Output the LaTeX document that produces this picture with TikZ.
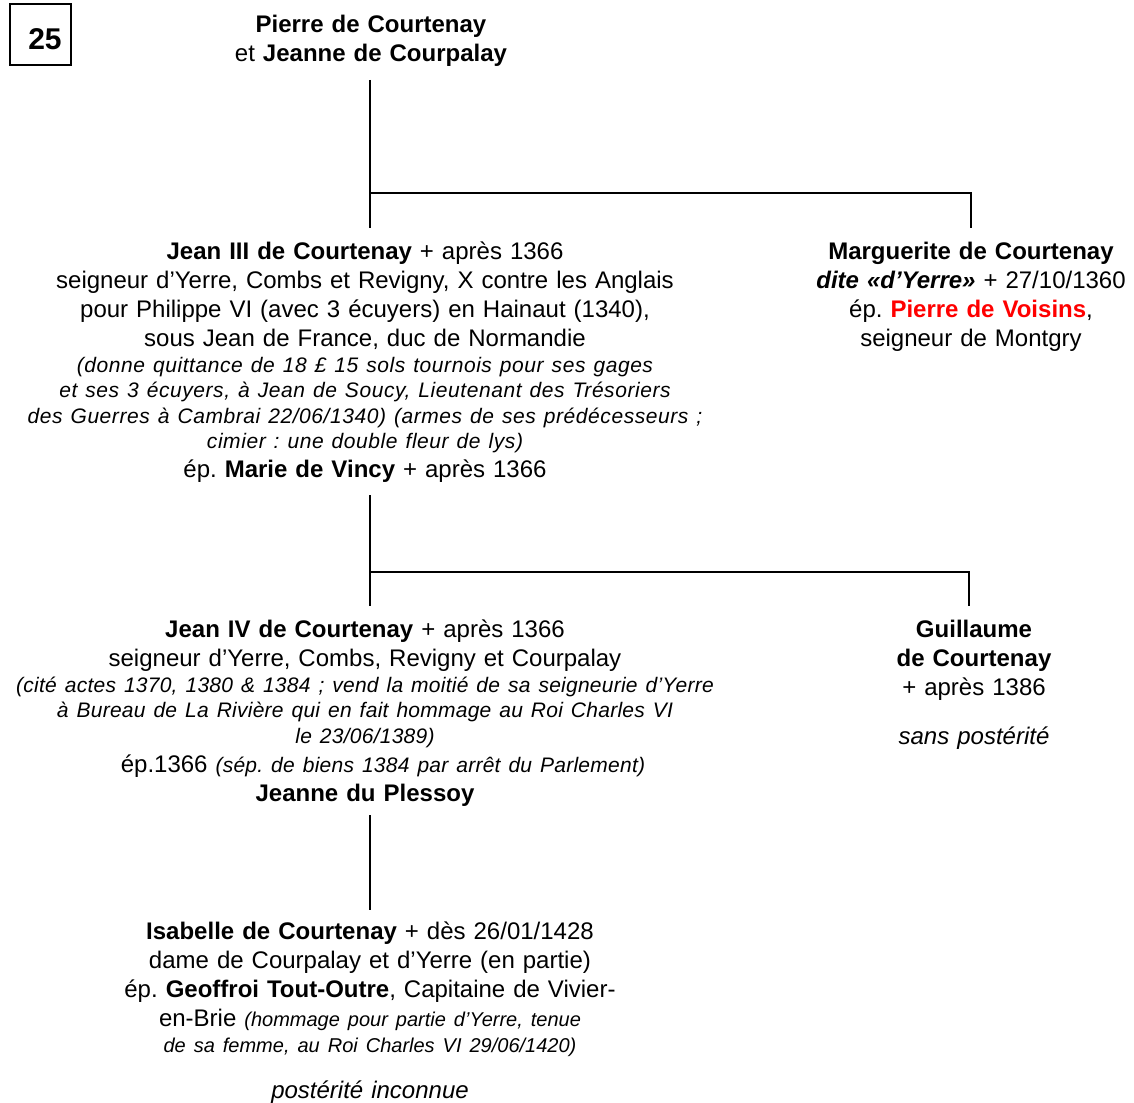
\documentclass[tikz,border=0pt]{standalone}
\usepackage{fontspec}
\setmainfont{Liberation Sans}
\newfontfamily\spreadfont{Liberation Sans}[LetterSpace=2.7]
\newfontfamily\halfspreadfont{Liberation Sans}[LetterSpace=1.2]
\usetikzlibrary{positioning}
\setlength{\parindent}{0pt}
\setlength{\parskip}{0pt}
\frenchspacing

\newcommand{\regfont}{\fontsize{24}{29}\selectfont}
\newcommand{\notefont}{\fontsize{20}{25.5}\selectfont\itshape}
\newcommand{\widenote}{\spreadfont\fontsize{21}{25.5}\selectfont\itshape}
\newcommand{\midnote}{\halfspreadfont\fontsize{21}{25.5}\selectfont\itshape}

\begin{document}
\begin{tikzpicture}[
  x=1pt, y=-1pt,
  person/.style={anchor=north, inner sep=0pt, align=center,
                 text width=#1, font=\regfont},
  person/.default=760pt,
  numframe/.style={draw, line width=2pt, minimum size=61pt, inner sep=0pt},
  link/.style={line width=2pt},
]
\useasboundingbox (0,0) rectangle (1134,1102);

% generation number
\node[numframe] (numbox) at (40.5,34.5) {};
\node[font=\fontsize{30}{30}\selectfont\bfseries, inner sep=0pt] (num) at (45,39) {25};

% parents
\node[person] (pierre) at (371,15)
  {\textbf{Pierre de Courtenay}\\et \textbf{Jeanne de Courpalay}};

% children
\node[person] (jean3) at (365,242) {%
  \textbf{Jean III de Courtenay} + après 1366\\
  seigneur d’Yerre, Combs et Revigny, X contre les Anglais\\
  pour Philippe VI (avec 3 écuyers) en Hainaut (1340),\\
  sous Jean de France, duc de Normandie\par
  {\widenote (donne quittance de 18 £ 15 sols tournois pour ses gages\\
   et ses 3 écuyers, à Jean de Soucy, Lieutenant des Trésoriers\\
   des Guerres à Cambrai 22/06/1340) (armes de ses prédécesseurs ;\\
   cimier : une double fleur de lys)\par}
  ép. \textbf{Marie de Vincy} + après 1366};

\node[person=320pt] (marg) at (971,242) {%
  \textbf{Marguerite de Courtenay}\\
  \textbf{\textit{dite «d’Yerre»}} + 27/10/1360\\
  ép. \textcolor{red}{\textbf{Pierre de Voisins}},\\
  seigneur de Montgry};

% grandchildren
\node[person] (jean4) at (365,620) {%
  \textbf{Jean IV de Courtenay} + après 1366\\
  seigneur d’Yerre, Combs, Revigny et Courpalay\par
  {\midnote (cité actes 1370, 1380 \& 1384 ; vend la moitié de sa seigneurie d’Yerre\\
   à Bureau de La Rivière qui en fait hommage au Roi Charles VI\\
   le 23/06/1389)\par}
  \hspace*{36pt}ép.1366 {\midnote (sép. de biens 1384 par arrêt du Parlement)}\par
  \textbf{Jeanne du Plessoy}};

\node[person=220pt] (guil) at (974,620) {%
  \textbf{Guillaume}\\
  \textbf{de Courtenay}\\
  + après 1386\par
  \vspace{20pt}
  \textit{sans postérité}};

% great-grandchild
\node[person] (isab) at (370,922) {%
  \textbf{Isabelle de Courtenay} + dès 26/01/1428\\
  dame de Courpalay et d’Yerre (en partie)\\
  ép. \textbf{Geoffroi Tout-Outre}, Capitaine de Vivier-\par
  en-Brie {\notefont (hommage pour partie d’Yerre, tenue}\par
  {\notefont de sa femme, au Roi Charles VI 29/06/1420)\par}
  \vspace{17pt}
  \textit{postérité inconnue}};

% connectors
\coordinate (pierreStem) at (370,80);
\coordinate (fork1)      at (370,193);
\coordinate (jean3Top)   at (370,228);
\coordinate (margTop)    at (971,228);
\draw[link] (pierreStem) -- (jean3Top);
\draw[link] (fork1) -| (margTop);

\coordinate (jean3Stem) at (370,495);
\coordinate (fork2)     at (370,572);
\coordinate (jean4Top)  at (370,606);
\coordinate (guilTop)   at (969,606);
\draw[link] (jean3Stem) -- (jean4Top);
\draw[link] (fork2) -| (guilTop);

\coordinate (jean4Stem) at (370,815);
\coordinate (isabTop)   at (370,910);
\draw[link] (jean4Stem) -- (isabTop);

\end{tikzpicture}
\end{document}
